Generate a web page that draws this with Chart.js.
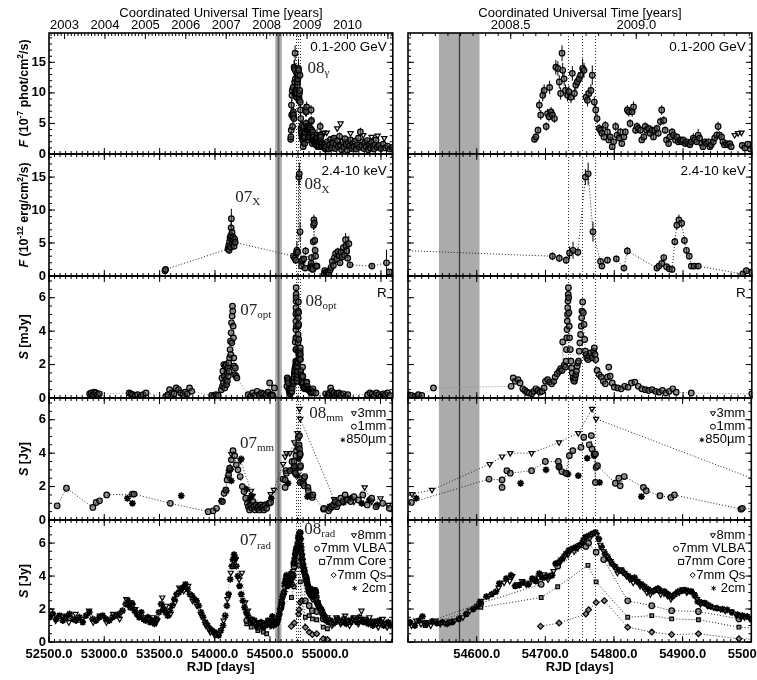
<!DOCTYPE html>
<html lang="en">
<head>
<meta charset="UTF-8">
<title>Multi-band light curves</title>
<script src="https://cdn.jsdelivr.net/npm/chart.js"></script>
<style>
  body { margin: 0; background: #fff; }
  #fig { position: relative; width: 757px; height: 680px; overflow: hidden; }
  #fig canvas { position: absolute; }
</style>
<script>
// ---- axes ----
const leftRange = [52500, 55607]
const rightRange = [54500, 55000]
const leftDayTicks = [52500, 53000, 53500, 54000, 54500, 55000]
const rightDayTicks = [54600, 54700, 54800, 54900, 55000]
const leftYearTicks = [2003, 2004, 2005, 2006, 2007, 2008, 2009, 2010]
const rightYearTicks = [2008.5, 2009.0]
const dayStepsLeft = [500, 50]
const dayStepsRight = [100, 10]
const yearStepsLeft = [1, 1 / 12]
const yearStepsRight = [0.5, 0.05]

// ---- marked epochs ----
const gapDays = [54545, 54604]
const gapLine = 54574
const flareLines = [54733, 54753, 54772]

// ---- 0.1-200 GeV  [RJD, flux, err] ----
const gamma = [[54684,2.4,0.5],[54686,2.8,0.6],[54689,3.9,0.6],[54691,8.0,0.9],[54693,6.4,0.8],[54696,9.6,1.0],[54698,10.4,1.0],[54701,4.5,0.7],[54703,6.6,0.8],[54705,6.1,0.8],[54706,10.9,1.1],[54708,6.9,0.8],[54710,6.4,0.8],[54713,5.8,0.7],[54715,14.2,1.2],[54718,14.0,1.2],[54720,11.8,1.1],[54722,9.9,1.0],[54724,16.5,1.3],[54725,13.7,1.2],[54727,12.3,1.1],[54729,10.4,1.0],[54732,9.6,1.0],[54734,10.2,1.0],[54737,9.3,1.0],[54739,13.2,1.2],[54742,9.9,1.0],[54744,11.3,1.1],[54746,11.8,1.1],[54749,12.3,1.1],[54751,12.9,1.2],[54754,14.0,1.6],[54756,13.7,1.2],[54759,9.3,1.0],[54761,8.8,1.0],[54763,9.9,1.0],[54766,10.4,1.0],[54768,12.9,1.6],[54771,8.5,0.9],[54773,7.2,0.9],[54775,5.8,0.8],[54778,4.2,0.7],[54780,3.9,0.6],[54782,3.4,0.6],[54785,2.8,0.6],[54787,4.7,0.7],[54790,3.6,0.6],[54792,2.3,0.5],[54794,2.8,0.6],[54797,1.2,0.4],[54799,2.0,0.5],[54802,4.5,0.7],[54804,3.1,0.6],[54807,2.6,0.5],[54809,3.6,0.6],[54811,1.7,0.5],[54814,2.8,0.6],[54816,3.6,0.6],[54819,7.2,0.8],[54821,6.9,0.8],[54823,5.0,0.7],[54826,6.9,0.8],[54828,7.7,0.9],[54831,3.9,0.6],[54833,4.5,0.7],[54835,4.2,0.6],[54838,3.9,0.6],[54840,2.3,0.5],[54843,2.8,0.6],[54845,4.5,0.7],[54847,3.9,0.6],[54850,4.2,0.6],[54852,3.4,0.6],[54855,3.9,0.6],[54857,2.8,0.5],[54859,3.9,0.6],[54862,4.2,0.6],[54864,3.4,0.6],[54867,5.3,0.7],[54869,7.2,0.8],[54872,5.5,0.7],[54874,3.9,0.6],[54876,2.3,0.5],[54879,1.7,0.5],[54881,2.8,0.5],[54884,3.6,0.6],[54886,3.1,0.6],[54889,2.3,0.5],[54891,2.8,0.5],[54893,2.0,0.5],[54896,2.3,0.5],[54898,2.0,0.5],[54900,2.3,0.5],[54903,1.7,0.5],[54905,2.0,0.5],[54908,1.7,0.5],[54910,1.5,0.4],[54912,2.0,0.5],[54915,2.6,0.8],[54917,2.3,0.5],[54920,2.0,0.5],[54922,3.1,1.0],[54924,2.6,0.5],[54927,1.7,0.5],[54929,1.2,0.4],[54932,2.0,0.5],[54934,1.7,0.5],[54937,2.0,0.5],[54939,1.2,0.4],[54941,1.5,0.4],[54944,2.0,0.5],[54946,2.6,0.5],[54949,3.1,0.6],[54951,4.5,0.8],[54953,3.1,0.6],[54956,2.8,0.5],[54958,2.0,0.5],[54960,1.5,0.4],[54963,1.7,0.5],[54965,1.5,0.4],[54968,1.7,0.5],[54970,1.2,0.4],[54986,1.4,0.4],[54990,1.0,0.4],[54994,1.6,0.4],[54998,0.8,0.4],[55005,1.2,0.4],[55015,2.0,0.5],[55025,0.8,0.4],[55035,1.5,0.4],[55045,2.4,0.5],[55055,1.0,0.4],[55065,1.8,0.5],[55075,2.6,0.5],[55085,0.9,0.4],[55095,1.6,0.5],[55105,2.2,0.5],[55115,1.2,0.4],[55125,2.9,0.6],[55135,1.4,0.4],[55145,0.7,0.4],[55155,2.0,0.5],[55165,1.1,0.4],[55175,2.5,0.5],[55185,1.6,0.5],[55195,0.6,0.4],[55205,1.9,0.5],[55215,1.3,0.4],[55225,2.3,0.5],[55235,0.9,0.4],[55245,1.7,0.5],[55255,1.2,0.4],[55265,2.1,0.5],[55275,0.8,0.4],[55285,1.5,0.4],[55295,2.6,0.5],[55305,1.1,0.4],[55314,3.6,0.7],[55325,1.4,0.4],[55335,2.0,0.5],[55345,0.9,0.4],[55355,1.8,0.5],[55365,1.2,0.4],[55375,2.2,0.5],[55385,0.7,0.4],[55395,1.6,0.5],[55405,1.0,0.4],[55415,1.9,0.5],[55425,1.3,0.4],[55435,0.8,0.4],[55445,1.5,0.4],[55455,2.3,0.5],[55465,1.1,0.4],[55480,1.4,0.4],[55500,0.9,0.4],[55520,1.6,0.4],[55540,1.0,0.4],[55560,1.3,0.4],[55580,0.8,0.4],[55600,1.1,0.4]]
const gammaLimits = [[54975,3.1],[54980,3.4],[54985,3.5],[55010,3.5],[55105,4.2],[55135,5.0],[55225,3.4],[55340,3.1],[55415,2.8],[55470,3.0],[55530,2.6]]

// ---- 2.4-10 keV  [RJD, flux, err] ----
const xray = [[53548,0.8,0.3],[53554,1.0,0.3],[54118,4.1,0.5],[54124,4.6,0.5],[54128,3.9,0.5],[54132,5.2,0.6],[54136,5.8,0.6],[54140,4.4,0.5],[54143,6.1,0.7],[54146,7.3,0.8],[54148,8.7,1.5],[54151,5.5,0.6],[54154,6.6,0.7],[54157,5.0,0.6],[54160,4.8,0.5],[54164,5.9,0.6],[54168,5.3,0.6],[54173,4.5,0.5],[54178,5.6,0.6],[54183,5.1,0.5],[54710,3.0,0.6],[54720,2.7,0.6],[54730,2.4,0.6],[54735,3.5,1.0],[54740,3.9,1.3],[54747,3.6,0.6],[54758,15.0,1.2],[54762,15.5,1.7],[54769,6.7,1.5],[54780,2.2,0.5],[54782,1.5,0.4],[54790,2.4,0.5],[54803,2.6,0.5],[54814,1.2,0.4],[54819,3.8,0.6],[54862,1.2,0.4],[54865,1.5,0.4],[54869,1.9,0.4],[54872,2.8,0.5],[54876,1.4,0.4],[54880,1.1,0.4],[54884,1.0,0.4],[54888,5.2,0.6],[54891,7.7,0.7],[54894,8.5,0.8],[54898,8.0,0.7],[54902,5.4,0.6],[54905,3.9,0.5],[54909,3.0,0.5],[54912,1.5,0.4],[54916,1.5,0.4],[54922,1.5,0.4],[54987,0.3,0.3],[54992,0.8,0.3],[55000,0.5,0.3],[55010,0.2,0.3],[55020,0.6,0.3],[55030,0.3,0.3],[55040,0.9,0.3],[55050,1.3,0.4],[55060,2.2,0.5],[55070,1.6,0.4],[55080,2.8,0.5],[55090,3.4,0.6],[55100,2.5,0.5],[55110,3.7,0.6],[55120,3.1,0.5],[55130,2.0,0.5],[55140,3.6,0.6],[55150,2.9,0.5],[55160,4.3,0.7],[55170,3.2,0.6],[55180,5.5,1.0],[55185,4.6,0.8],[55190,3.8,0.7],[55200,2.7,0.5],[55210,4.9,1.2],[55220,1.7,0.4],[55418,1.5,0.4],[55550,2.0,2.0],[55575,0.6,0.3]]

// ---- R band  [RJD, mJy] ----
const optical = [[52867,0.25],[52880,0.3],[52895,0.2],[52910,0.35],[52925,0.3],[52940,0.2],[52955,0.25],[53225,0.3],[53240,0.25],[53255,0.2],[53280,0.15],[53300,0.2],[53330,0.1],[53350,0.2],[53377,0.3],[53556,0.1],[53575,0.2],[53590,0.5],[53610,0.3],[53630,0.25],[53650,0.6],[53670,0.5],[53690,0.3],[53710,0.2],[53730,0.35],[53750,0.25],[53770,0.6],[53790,0.4],[53970,0.15],[53990,0.1],[54010,0.2],[54030,0.15],[54058,0.5],[54063,1.2],[54068,0.7],[54072,1.6],[54076,0.9],[54080,2.0],[54084,1.3],[54088,0.6],[54092,1.9],[54096,1.1],[54100,2.0],[54104,0.8],[54108,1.5],[54112,1.0],[54116,1.8],[54120,1.3],[54124,2.1],[54128,1.6],[54132,2.4],[54136,2.9],[54140,3.4],[54143,2.6],[54146,3.9],[54149,4.5],[54152,3.3],[54155,4.9],[54158,5.5],[54161,5.2],[54164,4.3],[54167,3.6],[54170,2.4],[54174,1.9],[54178,1.4],[54184,1.8],[54190,1.3],[54198,1.2],[54300,0.2],[54320,0.1],[54340,0.3],[54360,0.15],[54380,0.4],[54400,0.2],[54420,0.3],[54440,0.25],[54460,0.2],[54480,0.35],[54494,0.9],[54500,0.2],[54505,0.15],[54510,0.1],[54515,0.2],[54520,0.15],[54537,0.6],[54650,0.7],[54653,1.2],[54656,1.0],[54660,1.1],[54663,0.9],[54667,0.55],[54670,0.45],[54673,0.35],[54676,0.3],[54680,0.25],[54683,0.4],[54686,0.55],[54689,0.45],[54692,0.35],[54695,0.4],[54698,0.6],[54700,1.0],[54703,1.1],[54706,0.95],[54709,0.85],[54712,1.0],[54714,1.25],[54717,1.45],[54720,1.6],[54722,1.75],[54724,1.65],[54725,3.35],[54727,1.95],[54729,1.85],[54730,2.2],[54730.5,2.9],[54731,3.6],[54731.3,4.1],[54731.6,4.6],[54732,5.0],[54732.3,5.4],[54732.6,5.8],[54733,6.2],[54733.3,6.6],[54733.6,6.0],[54734,5.1],[54734.5,4.3],[54735,3.6],[54736,2.9],[54737,2.2],[54738,1.8],[54739,1.5],[54740,1.2],[54741,1.05],[54742,1.0],[54743,1.2],[54744,1.4],[54745,1.6],[54746,1.9],[54747,2.1],[54748,2.2],[54749,2.8],[54750,3.3],[54751,3.8],[54752,4.3],[54752.5,4.8],[54753,5.2],[54754,5.75],[54755,5.1],[54756,4.4],[54757,3.5],[54758,2.8],[54759,2.6],[54760,2.4],[54762,2.3],[54764,2.5],[54766,2.7],[54768,2.4],[54770,2.8],[54771,3.0],[54772,2.6],[54773,2.3],[54775,1.65],[54778,1.4],[54781,1.25],[54784,1.0],[54787,0.85],[54790,1.25],[54792,1.85],[54794,1.3],[54797,0.9],[54800,0.65],[54805,0.6],[54810,0.55],[54815,0.7],[54820,0.65],[54825,0.9],[54830,0.95],[54835,0.7],[54840,0.55],[54845,0.5],[54850,0.45],[54855,0.5],[54860,0.4],[54865,0.35],[54870,0.45],[54875,0.3],[54880,0.4],[54885,0.55],[54890,0.35],[54912,0.3],[55000,0.25],[55015,0.1],[55025,0.2],[55035,0.3],[55045,0.6],[55055,0.4],[55065,0.2],[55075,0.3],[55090,0.15],[55105,0.25],[55120,0.3],[55140,0.2],[55160,0.25],[55180,0.1],[55200,0.2],[55380,0.2],[55400,0.3],[55420,0.25],[55440,0.15],[55460,0.3],[55480,0.2],[55500,0.1],[55520,0.25],[55540,0.2],[55560,0.3],[55580,0.15]]

// ---- mm  [RJD, Jy] ----
const mm3 = [[54120,2.55],[54150,3.95],[54233,3.55],[54329,1.75],[54344,1.45],[54448,0.75],[54506,1.55],[54535,1.8],[54619,3.35],[54637,3.8],[54649,4.0],[54680,4.0],[54720,4.65],[54748,5.2],[54768,6.65],[54774,6.05],[55080,1.25],[55130,1.0],[55200,1.3],[55260,1.1],[55357,1.95],[55420,1.1],[55500,1.3],[55570,0.9]]
const mm1 = [[52574,0.85],[52658,1.9],[52897,0.75],[52927,1.05],[52957,1.15],[53022,1.5],[53255,1.55],[53270,1.55],[53598,1.0],[53941,0.5],[53986,0.55],[54016,0.7],[54070,1.1],[54085,1.6],[54100,1.8],[54112,2.4],[54125,2.7],[54135,3.1],[54150,3.6],[54165,4.15],[54180,3.85],[54195,3.3],[54210,3.0],[54230,2.6],[54250,2.0],[54265,1.7],[54280,1.3],[54295,1.0],[54305,0.8],[54315,0.6],[54325,0.9],[54335,0.7],[54345,1.1],[54355,0.8],[54365,0.6],[54375,0.9],[54385,0.7],[54395,0.8],[54405,0.6],[54415,0.9],[54425,0.7],[54435,0.8],[54445,0.6],[54455,0.9],[54470,0.7],[54490,1.0],[54505,1.05],[54618,2.45],[54637,2.4],[54637,1.95],[54644,2.95],[54649,2.8],[54680,2.95],[54700,3.5],[54719,3.5],[54720,3.2],[54724,2.9],[54730,2.8],[54735,3.85],[54740,4.15],[54752,4.35],[54756,4.95],[54764,4.5],[54767,5.05],[54768,4.25],[54771,3.95],[54773,2.25],[54773,3.95],[54774,3.15],[54776,3.25],[54802,2.2],[54807,2.5],[54809,2.05],[54815,2.6],[54843,1.95],[54847,1.75],[54867,1.45],[54883,1.35],[54888,1.5],[54985,0.65],[54987,0.7],[55030,0.55],[55045,0.7],[55060,0.8],[55075,0.9],[55090,1.1],[55105,0.8],[55120,1.0],[55140,1.3],[55160,1.1],[55180,1.5],[55200,1.2],[55230,1.1],[55260,1.4],[55300,1.2],[55340,1.5],[55380,0.9],[55420,1.3],[55460,0.8],[55520,1.0],[55580,0.7]]
const mm850 = [[53210,1.3],[53255,1.0],[53697,1.45],[54060,1.15],[54105,1.75],[54129,2.95],[54144,3.05],[54150,2.35],[54240,3.65],[54284,1.85],[54310,1.2],[54329,1.45],[54360,0.9],[54389,0.85],[54420,0.7],[54460,0.9],[54512,1.3],[54664,2.2],[54701,3.0],[54720,3.15],[54733,2.75],[54748,2.65],[54761,3.7],[54771,3.85],[54779,2.25],[54840,1.4],[55040,0.8],[55090,0.9],[55165,1.05],[55230,1.3],[55330,1.0],[55400,1.2],[55470,0.9]]

// ---- cm / 7mm  [RJD, Jy] ----
const cm2 = [[52505,1.5],[52535,1.7],[52565,1.4],[52595,1.6],[52625,1.3],[52655,1.5],[52685,1.7],[52715,1.4],[52745,1.3],[52775,1.5],[52805,1.2],[52835,1.6],[52865,1.8],[52895,1.4],[52925,1.3],[52955,1.5],[52985,1.6],[53015,1.4],[53045,1.3],[53075,1.5],[53105,1.6],[53135,1.7],[53165,1.9],[53195,2.3],[53215,2.5],[53235,2.1],[53255,2.3],[53275,1.9],[53295,1.7],[53315,1.5],[53335,1.8],[53355,1.4],[53375,1.3],[53395,1.5],[53415,1.2],[53435,1.3],[53455,1.1],[53475,1.4],[53495,1.8],[53515,2.3],[53535,2.0],[53555,1.8],[53575,1.6],[53595,1.9],[53615,2.2],[53635,2.6],[53655,2.9],[53675,3.0],[53695,3.2],[53715,3.3],[53735,3.5],[53755,3.2],[53775,2.9],[53795,2.8],[53815,2.6],[53835,2.5],[53855,2.2],[53875,1.8],[53895,1.5],[53915,1.2],[53935,1.0],[53955,0.8],[53975,0.7],[53995,0.6],[54015,0.5],[54035,0.4],[54055,0.7],[54075,1.0],[54095,1.6],[54110,2.2],[54125,2.9],[54140,3.8],[54155,4.6],[54165,5.0],[54175,5.3],[54185,5.1],[54195,4.6],[54210,4.0],[54225,3.4],[54240,2.9],[54255,2.5],[54270,2.1],[54285,1.8],[54300,1.6],[54320,1.4],[54340,1.2],[54360,1.3],[54380,1.0],[54400,1.1],[54420,1.2],[54440,0.9],[54460,1.0],[54480,1.3],[54503,1.2],[54510,1.0],[54516,1.3],[54521,1.55],[54528,1.1],[54535,1.25],[54542,1.15],[54550,1.2],[54557,1.1],[54564,1.2],[54574,1.4],[54585,1.7],[54595,2.0],[54600,2.15],[54604,2.35],[54614,2.75],[54622,2.9],[54628,3.05],[54633,3.55],[54643,3.85],[54650,4.05],[54656,3.4],[54662,3.45],[54668,3.6],[54675,3.5],[54681,3.85],[54686,3.7],[54691,4.15],[54696,3.9],[54701,3.95],[54706,4.0],[54710,4.05],[54715,4.75],[54720,4.85],[54725,5.05],[54730,5.35],[54734,5.55],[54739,5.65],[54744,5.75],[54749,5.85],[54754,6.05],[54758,6.35],[54763,6.45],[54768,6.55],[54773,6.65],[54778,6.25],[54782,5.75],[54787,5.35],[54792,5.05],[54797,4.75],[54802,4.55],[54807,4.35],[54812,4.3],[54816,4.15],[54821,4.0],[54826,3.85],[54830,3.9],[54835,3.65],[54840,3.5],[54845,3.35],[54850,3.2],[54855,3.05],[54860,3.15],[54864,3.25],[54869,3.1],[54874,3.05],[54879,2.9],[54884,2.75],[54889,2.9],[54893,3.05],[54898,3.1],[54903,3.15],[54908,3.1],[54913,3.05],[54918,2.8],[54922,2.45],[54927,2.4],[54932,2.35],[54937,2.25],[54941,2.15],[54950,2.05],[54958,2.0],[54965,1.95],[54972,1.8],[54980,1.65],[54987,1.6],[54994,1.55],[55000,1.4],[55010,1.3],[55030,1.2],[55050,1.3],[55070,1.1],[55090,1.2],[55110,1.4],[55130,1.3],[55150,1.2],[55170,1.4],[55190,1.1],[55210,1.3],[55230,1.2],[55250,1.4],[55270,1.3],[55290,1.2],[55310,1.5],[55330,1.3],[55350,1.2],[55370,1.3],[55390,1.1],[55410,1.2],[55430,1.0],[55450,1.2],[55470,1.1],[55490,1.3],[55510,1.2],[55530,1.0],[55550,1.1],[55570,1.2],[55590,1.0]]
const mm8 = [[52515,1.9],[52560,1.3],[52620,1.6],[52680,1.2],[52740,1.7],[52800,1.4],[52862,1.9],[52900,1.2],[52960,1.6],[53020,1.2],[53080,1.7],[53140,1.4],[53200,2.6],[53240,2.4],[53280,2.0],[53320,1.7],[53360,1.5],[53400,1.4],[53440,1.5],[53480,1.3],[53525,2.7],[53560,2.2],[53600,1.7],[53640,2.4],[53680,3.3],[53720,3.1],[53760,3.4],[53800,2.5],[53840,2.2],[53880,1.6],[53920,1.0],[53960,0.6],[54000,0.4],[54040,0.5],[54080,1.3],[54115,2.6],[54145,4.2],[54170,4.9],[54190,5.0],[54220,3.8],[54246,4.2],[54275,2.4],[54300,1.9],[54330,1.4],[54370,1.1],[54410,1.2],[54450,1.0],[54490,1.2],[54505,1.0],[54512,1.3],[54519,1.1],[54526,1.2],[54533,1.0],[54540,1.3],[54547,1.1],[54554,1.15],[54561,1.25],[54568,1.3],[54580,1.5],[54590,1.9],[54606,2.5],[54618,2.8],[54632,3.3],[54640,3.6],[54648,3.7],[54652,4.0],[54659,3.5],[54666,3.7],[54672,3.5],[54678,3.6],[54684,3.8],[54690,3.9],[54698,4.1],[54704,3.8],[54712,4.3],[54718,4.8],[54723,5.0],[54728,5.2],[54733,5.3],[54737,5.6],[54742,5.5],[54747,5.7],[54752,5.9],[54756,6.2],[54760,6.4],[54765,6.3],[54770,6.6],[54775,6.5],[54780,5.9],[54785,5.5],[54790,5.2],[54795,4.9],[54800,4.6],[54805,4.2],[54810,4.4],[54818,4.0],[54823,3.8],[54828,3.6],[54833,3.7],[54838,3.4],[54843,3.3],[54848,3.0],[54853,2.9],[54858,3.1],[54863,3.2],[54868,2.9],[54873,2.95],[54878,2.8],[54883,2.6],[54888,2.85],[54895,3.0],[54900,3.2],[54906,3.0],[54911,3.1],[54916,2.9],[54921,2.6],[54926,2.3],[54931,2.4],[54936,2.2],[54945,2.1],[54955,2.0],[54962,1.9],[54970,1.85],[54977,1.7],[54984,1.55],[54990,1.5],[54998,1.4],[55020,1.5],[55060,1.0],[55100,1.5],[55140,1.1],[55180,1.6],[55220,1.0],[55260,1.5],[55300,1.1],[55328,1.9],[55360,1.4],[55400,1.5],[55440,1.3],[55480,0.9],[55520,1.4],[55560,0.9]]
const vlba = [[54290,1.3],[54330,1.2],[54390,0.9],[54440,1.0],[54470,1.1],[54525,1.15],[54606,2.35],[54694,3.5],[54718,4.6],[54759,5.8],[54763,6.0],[54774,5.45],[54785,5.0],[54820,2.5],[54855,2.2],[54884,1.9],[54923,1.85],[54982,1.4],[55020,1.3]]
const vlbaCore = [[54290,1.1],[54330,0.9],[54390,0.7],[54440,0.6],[54470,0.5],[54525,1.0],[54606,2.1],[54694,2.7],[54718,3.35],[54762,4.65],[54774,3.65],[54820,1.5],[54855,1.6],[54884,1.4],[54923,1.35],[54982,0.9],[55020,0.8]]
const vlbaQs = [[54693,0.95],[54720,1.15],[54759,1.7],[54763,1.95],[54774,2.4],[54786,2.5],[54820,0.9],[54855,0.6],[54884,0.45],[54923,0.5],[54982,0.2],[55020,0.15]]

const FONT = '"Liberation Sans", Arial, sans-serif'
const SERIF = '"Liberation Serif", "Times New Roman", serif'
const rowEdges = [33, 154, 276, 398, 520, 642]
const M = 8

function year(rjd) { return 2003 + (rjd - 52640.5) / 365.25 }

function eachStep(min, max, step, fn) {
  const n0 = Math.ceil(min / step - 1e-9), n1 = Math.floor(max / step + 1e-9)
  for (let n = n0; n <= n1; n++) fn(n * step)
}

function marker(ctx, style, x, y, r) {
  ctx.beginPath()
  if (style === 'circle') ctx.arc(x, y, r, 0, Math.PI * 2)
  else if (style === 'tri') { ctx.moveTo(x - r, y - r * 0.7); ctx.lineTo(x + r, y - r * 0.7); ctx.lineTo(x, y + r); ctx.closePath() }
  else if (style === 'rect') ctx.rect(x - r, y - r, 2 * r, 2 * r)
  else if (style === 'diamond') { ctx.moveTo(x, y - r); ctx.lineTo(x + r, y); ctx.lineTo(x, y + r); ctx.lineTo(x - r, y); ctx.closePath() }
  else if (style === 'star') {
    for (let k = 0; k < 3; k++) {
      const t = k * Math.PI / 3
      ctx.moveTo(x + r * Math.sin(t), y - r * Math.cos(t)); ctx.lineTo(x - r * Math.sin(t), y + r * Math.cos(t))
    }
  }
  ctx.stroke()
}

const look = {
  ring: { pointStyle: 'circle', pointRadius: 2.8 },
  down: { pointStyle: 'triangle', pointRotation: 180, pointRadius: 3, pointBackgroundColor: 'rgba(255,255,255,0)' },
  star: { pointStyle: 'star', pointRadius: 3.4, pointBorderWidth: 1.7 },
  box: { pointStyle: 'rect', pointRadius: 2.6 },
  diam: { pointStyle: 'rectRot', pointRadius: 2.9 }
}
const dotted = { showLine: true, borderColor: '#222', borderWidth: 1, borderDash: [1, 2] }
const greyDotted = { showLine: true, borderColor: '#888', borderWidth: 1, borderDash: [1, 2] }

function series(arr, style, line) {
  return Object.assign({
    data: arr.map(p => ({ x: p[0], y: p[1] })),
    errors: arr[0].length > 2 ? arr.map(p => p[2]) : null,
    showLine: false, clip: 0,
    pointRadius: 2.8, pointBorderWidth: 1.2, pointBorderColor: '#000',
    pointBackgroundColor: 'rgba(80,80,80,0.6)'
  }, style, line || {})
}

const rows = [
  { yMax: 19.8, yTicks: [0, 5, 10, 15], ySteps: [5, 1], band: '0.1-200 GeV', bandDy: 14,
    title: [['F', 'i'], [' (10', 'b'], ['-7', 's'], [' phot/cm', 'b'], ['2', 's'], ['/s)', 'b']],
    notes: [[54837, 14.0, '08', 'γ']],
    sets: () => [series(gamma, look.ring), series(gammaLimits, look.down)] },
  { yMax: 18.5, yTicks: [0, 5, 10, 15], ySteps: [5, 1], band: '2.4-10 keV', bandDy: 17,
    title: [['F', 'i'], [' (10', 'b'], ['-12', 's'], [' erg/cm', 'b'], ['2', 's'], ['/s)', 'b']],
    notes: [[54183, 11.9, '07', 'X'], [54810, 13.8, '08', 'X']],
    sets: () => [series(xray, look.ring, dotted)] },
  { yMax: 7.3, yTicks: [0, 2, 4, 6], ySteps: [2, 0.5], band: 'R', bandDy: 17,
    title: [['S', 'i'], [' [mJy]', 'b']],
    notes: [[54228, 5.23, '07', 'opt'], [54819, 5.77, '08', 'opt']],
    sets: () => [series(optical, look.ring, greyDotted)] },
  { yMax: 7.3, yTicks: [0, 2, 4, 6], ySteps: [2, 0.5],
    title: [['S', 'i'], [' [Jy]', 'b']],
    legend: [['tri', '3mm'], ['circle', '1mm'], ['star', '850µm']],
    notes: [[54228, 4.58, '07', 'mm'], [54855, 6.37, '08', 'mm']],
    sets: () => [series(mm1, look.ring, dotted), series(mm3, look.down, dotted), series(mm850, look.star)] },
  { yMax: 7.4, yTicks: [0, 2, 4, 6], ySteps: [2, 0.5],
    title: [['S', 'i'], [' [Jy]', 'b']],
    legend: [['tri', '8mm'], ['circle', '7mm VLBA'], ['rect', '7mm Core'], ['diamond', '7mm Qs'], ['star', ' 2cm']],
    notes: [[54228, 6.14, '07', 'rad'], [54810, 6.83, '08', 'rad']],
    sets: () => [series(mm8, look.down, greyDotted), series(cm2, look.star),
      series(vlba, look.ring, dotted), series(vlbaCore, look.box, dotted), series(vlbaQs, look.diam, dotted)] }
]

const decor = {
  id: 'decor',
  beforeDatasetsDraw(chart) {
    const p = chart.canvas._panel
    const { ctx, chartArea: a } = chart
    const x = chart.scales.x, y = chart.scales.y
    ctx.save()
    ctx.beginPath(); ctx.rect(a.left, a.top, a.right - a.left, a.bottom - a.top); ctx.clip()
    const g0 = x.getPixelForValue(gapDays[0]), g1 = x.getPixelForValue(gapDays[1])
    ctx.fillStyle = '#ababab'
    ctx.fillRect(g0, a.top, g1 - g0, a.bottom - a.top)
    const vline = d => {
      const px = Math.round(x.getPixelForValue(d)) + 0.5
      ctx.beginPath(); ctx.moveTo(px, a.top); ctx.lineTo(px, a.bottom); ctx.stroke()
    }
    ctx.strokeStyle = p.left ? '#666' : '#333'
    ctx.lineWidth = p.left ? 2 : 1.2
    vline(gapLine)
    ctx.strokeStyle = '#333'; ctx.lineWidth = 1; ctx.setLineDash([1, 2])
    flareLines.forEach(vline)
    ctx.setLineDash([])
    ctx.strokeStyle = '#000'
    chart.data.datasets.forEach(ds => {
      if (!ds.errors) return
      ctx.beginPath()
      ds.data.forEach((pt, j) => {
        const e = ds.errors[j]
        if (!e) return
        const px = x.getPixelForValue(pt.x)
        ctx.moveTo(px, y.getPixelForValue(pt.y - e)); ctx.lineTo(px, y.getPixelForValue(pt.y + e))
      })
      ctx.stroke()
    })
    ctx.restore()
  },
  afterDraw(chart) {
    const p = chart.canvas._panel
    const r = p.row
    const { ctx, chartArea: a } = chart
    const x = chart.scales.x, y = chart.scales.y
    ctx.save()
    ctx.strokeStyle = '#000'; ctx.fillStyle = '#000'; ctx.lineWidth = 1
    ctx.beginPath()
    const xt = (s, step, len, top, bottom) => eachStep(s.min, s.max, step, v => {
      const px = s.getPixelForValue(v)
      if (bottom) { ctx.moveTo(px, a.bottom); ctx.lineTo(px, a.bottom - len) }
      if (top) { ctx.moveTo(px, a.top); ctx.lineTo(px, a.top + len) }
    })
    const yt = (step, len) => eachStep(y.min, y.max, step, v => {
      const py = y.getPixelForValue(v)
      ctx.moveTo(a.left, py); ctx.lineTo(a.left + len, py)
      ctx.moveTo(a.right, py); ctx.lineTo(a.right - len, py)
    })
    const ds = p.left ? dayStepsLeft : dayStepsRight
    xt(x, ds[0], 6, !p.first, true); xt(x, ds[1], 3, !p.first, true)
    if (p.first) {
      const ys = p.left ? yearStepsLeft : yearStepsRight
      xt(chart.scales.xTop, ys[0], 6, true, false); xt(chart.scales.xTop, ys[1], 3, true, false)
    }
    yt(r.ySteps[0], 6); yt(r.ySteps[1], 3)
    ctx.stroke()
    ctx.lineWidth = 1.6
    ctx.strokeRect(a.left, a.top, a.right - a.left, a.bottom - a.top)

    ctx.textBaseline = 'middle'
    if (r.band) {
      ctx.font = '13.5px ' + FONT; ctx.textAlign = 'right'
      ctx.fillText(r.band, a.right - 6, a.top + r.bandDy)
    }
    if (r.legend) {
      ctx.font = '13px ' + FONT; ctx.textAlign = 'right'; ctx.lineWidth = 1
      r.legend.forEach((it, k) => {
        const ty = a.top + 15.5 + k * 13.2
        ctx.fillText(it[1], a.right - 6, ty)
        const w = ctx.measureText(it[1]).width
        marker(ctx, it[0], a.right - 6 - w - 3.5, ty, 2.5)
      })
    }
    if (p.left) {
      ctx.textAlign = 'left'; ctx.fillStyle = '#222'
      r.notes.forEach(n => {
        const px = x.getPixelForValue(n[0]), py = y.getPixelForValue(n[1])
        ctx.font = '17px ' + SERIF
        ctx.fillText(n[2], px, py)
        const w = ctx.measureText(n[2]).width
        ctx.font = '11px ' + SERIF
        ctx.fillText(n[3], px + w, py + 5)
      })
      // y-axis title with italic symbol and superscripts
      ctx.fillStyle = '#000'
      const fonts = { b: 'bold 12.5px ' + FONT, i: 'italic bold 12.5px ' + FONT, s: 'bold 8.5px ' + FONT }
      ctx.translate(a.left - 24, (a.top + a.bottom) / 2)
      ctx.rotate(-Math.PI / 2)
      let total = 0
      r.title.forEach(t => { ctx.font = fonts[t[1]]; total += ctx.measureText(t[0]).width })
      let cx = -total / 2
      r.title.forEach(t => {
        ctx.font = fonts[t[1]]
        ctx.fillText(t[0], cx, t[1] === 's' ? -4 : 0)
        cx += ctx.measureText(t[0]).width
      })
    }
    ctx.restore()
  }
}

function makePanel(fig, ri, left) {
  const r = rows[ri]
  const first = ri === 0, last = ri === rows.length - 1
  const top = first ? 0 : rowEdges[ri] - M
  const bottom = last ? 680 : rowEdges[ri + 1] + M
  const cl = left ? 0 : 400, cw = left ? 398 : 357
  const canvas = document.createElement('canvas')
  canvas.width = cw; canvas.height = bottom - top
  canvas.style.left = cl + 'px'; canvas.style.top = top + 'px'
  canvas.style.width = cw + 'px'; canvas.style.height = (bottom - top) + 'px'
  canvas._panel = { row: r, left, first, last }
  fig.appendChild(canvas)

  const range = left ? leftRange : rightRange
  const dayTicks = left ? leftDayTicks : rightDayTicks
  const scales = {
    x: {
      type: 'linear', position: 'bottom', min: range[0], max: range[1], display: last,
      grid: { display: false, drawTicks: false }, border: { display: false },
      ticks: { autoSkip: false, maxRotation: 0, minRotation: 0, padding: 5,
        font: { size: 13, weight: 'bold' }, callback: v => v.toFixed(1) },
      afterBuildTicks: s => { s.ticks = dayTicks.map(v => ({ value: v })) },
      title: { display: last, text: 'RJD [days]', font: { size: 13, weight: 'bold' }, padding: { top: 0, bottom: 5 } },
      afterFit: s => { s.height = last ? 680 - rowEdges[5] : 0; s.paddingLeft = 0; s.paddingRight = 0 }
    },
    y: {
      type: 'linear', min: 0, max: r.yMax, display: left,
      grid: { display: false, drawTicks: false }, border: { display: false },
      ticks: { padding: 3, font: { size: 13, weight: 'bold' }, callback: v => String(v) },
      afterBuildTicks: s => { s.ticks = r.yTicks.map(v => ({ value: v })) },
      afterFit: s => { s.width = left ? 49 : 0; s.paddingTop = 0; s.paddingBottom = 0 }
    }
  }
  if (first) {
    const yt = left ? leftYearTicks : rightYearTicks
    scales.xTop = {
      type: 'linear', position: 'top', min: year(range[0]), max: year(range[1]),
      grid: { display: false, drawTicks: false }, border: { display: false },
      ticks: { autoSkip: false, maxRotation: 0, minRotation: 0, padding: 0, font: { size: 13 },
        callback: v => left ? String(v) : v.toFixed(1) },
      afterBuildTicks: s => { s.ticks = yt.map(v => ({ value: v })) },
      title: { display: true, text: 'Coordinated Universal Time [years]', font: { size: 13 }, padding: { top: 6, bottom: 0 } },
      afterFit: s => { s.height = rowEdges[0]; s.paddingLeft = 0; s.paddingRight = 0 }
    }
  }

  return new Chart(canvas, {
    type: 'scatter',
    data: { datasets: r.sets() },
    options: {
      responsive: false, animation: false, events: [],
      layout: { padding: { left: left ? 0 : 8, right: left ? 2 : 4, top: first ? 0 : M, bottom: last ? 0 : M } },
      plugins: { legend: { display: false }, tooltip: { enabled: false } },
      scales
    },
    plugins: [decor]
  })
}

window.onload = () => {
  Chart.defaults.font.family = FONT
  Chart.defaults.color = '#000'
  const fig = document.getElementById('fig')
  rows.forEach((r, i) => {
    makePanel(fig, i, true)
    makePanel(fig, i, false)
  })
}
</script>
</head>
<body>
  <div id="fig"></div>
</body>
</html>
